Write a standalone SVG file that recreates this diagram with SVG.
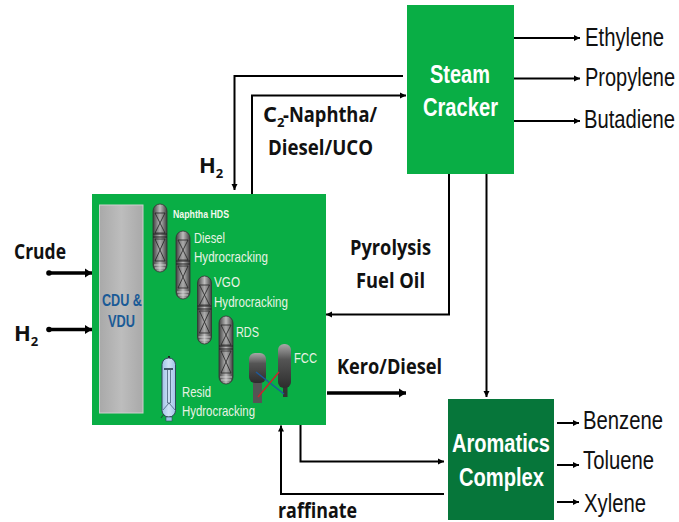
<svg xmlns="http://www.w3.org/2000/svg" width="679" height="522" viewBox="0 0 679 522">
<style>
text{font-family:"Liberation Sans",Arial,sans-serif}
.lbl{font-family:"Open Sans","Noto Sans",sans-serif;font-weight:700;fill:#111;font-size:22px}
.prod{font-size:26px;fill:#111}
.w{fill:#e8f2e4;font-size:15px}
.big{fill:#fff;font-weight:700;font-size:26px}
.c{fill:none;stroke:#000;stroke-width:2}
.t{fill:none;stroke:#000;stroke-width:3.500}
</style>
<defs>
<marker id="a" markerUnits="userSpaceOnUse" markerWidth="8" markerHeight="8" refX="6" refY="4" orient="auto"><path d="M0 1L6 4L0 7Z" fill="#000"/></marker>
<marker id="h" markerUnits="userSpaceOnUse" markerWidth="10" markerHeight="10" refX="7" refY="5" orient="auto"><path d="M0 0.500L7 5L0 9.500Z" fill="#000"/></marker>
<marker id="dot" markerUnits="userSpaceOnUse" markerWidth="7" markerHeight="7" refX="3.500" refY="3.500"><circle cx="3.500" cy="3.500" r="2.800" fill="#000"/></marker>
<linearGradient id="g" x1="0" x2="1" y1="0" y2="0"><stop offset="0" stop-color="#3f3f3f"/><stop offset=".5" stop-color="#bdbdbd"/><stop offset="1" stop-color="#3f3f3f"/></linearGradient>
<linearGradient id="d" x1="0" x2="0" y1="0" y2="1"><stop offset="0" stop-color="#a8a8a8"/><stop offset=".35" stop-color="#555"/><stop offset="1" stop-color="#2d2d2d"/></linearGradient>
<linearGradient id="b" x1="0" x2="1" y1="0" y2="0"><stop offset="0" stop-color="#9fc3e8"/><stop offset=".5" stop-color="#cfe2f6"/><stop offset="1" stop-color="#9fc3e8"/></linearGradient>
<linearGradient id="gr" x1="0" x2="1" y1="0" y2="0"><stop offset="0" stop-color="#a9a9a9"/><stop offset=".5" stop-color="#bdbdbd"/><stop offset="1" stop-color="#a9a9a9"/></linearGradient>
<g id="col">
<rect x="0" y="0" width="14" height="68" rx="7" fill="url(#g)" stroke="#333" stroke-width=".8"/>
<path d="M0 30H14M0 33H14" fill="none" stroke="#222" stroke-width="1"/>
<path d="M2 9H12L2 29H12ZM2 35H12L2 57H12Z" fill="#888" fill-opacity=".35" stroke="#222" stroke-width=".8"/>
<path d="M1 61H13M2 64H12" fill="none" stroke="#ddd" stroke-width=".8"/>
</g>
</defs>

<g id="connectors">
<path class="c" d="M403 76H234.500V190" marker-end="url(#a)"/>
<path class="c" d="M252 194V95.500H406" marker-end="url(#a)"/>
<path class="c" d="M514 38H580" marker-end="url(#a)"/>
<path class="c" d="M514 78.500H580" marker-end="url(#a)"/>
<path class="c" d="M514 121H580" marker-end="url(#a)"/>
<path class="c" d="M449 174V314.500H326" marker-end="url(#a)"/>
<path class="c" d="M486.500 174V397" marker-end="url(#a)"/>
<path class="t" d="M49 273H92" marker-start="url(#dot)" marker-end="url(#h)"/>
<path class="t" d="M49 329.500H92" marker-start="url(#dot)" marker-end="url(#h)"/>
<path class="t" d="M327 393H406" marker-end="url(#h)"/>
<path class="c" d="M300.500 425V461.500H444" marker-end="url(#a)"/>
<path class="c" d="M444 494H281V425.500" marker-end="url(#a)"/>
<path class="c" d="M557 423H579" marker-end="url(#a)"/>
<path class="c" d="M557 465H579" marker-end="url(#a)"/>
<path class="c" d="M557 502H579" marker-end="url(#a)"/>
</g>

<g id="steam-cracker">
<rect x="407" y="5" width="107" height="169" fill="#09ae45"/>
<text class="big" x="430" y="83" textLength="60" lengthAdjust="spacingAndGlyphs">Steam</text>
<text class="big" x="423" y="116" textLength="75" lengthAdjust="spacingAndGlyphs">Cracker</text>
</g>

<g id="aromatics-complex">
<rect x="448" y="399" width="106" height="121" fill="#06763a"/>
<text class="big" x="452" y="452" textLength="98" lengthAdjust="spacingAndGlyphs">Aromatics</text>
<text class="big" x="459" y="486" textLength="85" lengthAdjust="spacingAndGlyphs">Complex</text>
</g>

<g id="refinery">
<rect x="92" y="194" width="234" height="231" fill="#09ae45"/>
<rect x="99.500" y="205" width="43.500" height="208" fill="url(#gr)" stroke="#cfcfcf"/>
<text x="102" y="306" textLength="40" lengthAdjust="spacingAndGlyphs" font-size="17" font-weight="700" fill="#1a5a96">CDU &amp;</text>
<text x="108" y="327" textLength="27" lengthAdjust="spacingAndGlyphs" font-size="17" font-weight="700" fill="#1a5a96">VDU</text>
<use href="#col" x="153" y="204"/>
<use href="#col" x="176" y="231"/>
<use href="#col" x="197.500" y="276"/>
<use href="#col" x="219" y="316"/>
<text x="173" y="218" textLength="56" lengthAdjust="spacingAndGlyphs" font-size="11" font-weight="700" fill="#f2f8ee">Naphtha HDS</text>
<text class="w" x="194" y="243" textLength="31" lengthAdjust="spacingAndGlyphs">Diesel</text>
<text class="w" x="194" y="262" textLength="74" lengthAdjust="spacingAndGlyphs">Hydrocracking</text>
<text class="w" x="214" y="287" textLength="26" lengthAdjust="spacingAndGlyphs">VGO</text>
<text class="w" x="214" y="307" textLength="74" lengthAdjust="spacingAndGlyphs">Hydrocracking</text>
<text class="w" x="236" y="337" textLength="23" lengthAdjust="spacingAndGlyphs">RDS</text>
<text class="w" x="294" y="363" textLength="23" lengthAdjust="spacingAndGlyphs">FCC</text>
<text class="w" x="182" y="397" textLength="29" lengthAdjust="spacingAndGlyphs">Resid</text>
<text class="w" x="182" y="416" textLength="73" lengthAdjust="spacingAndGlyphs">Hydrocracking</text>
<path d="M169 356V359" stroke="#222" stroke-width="2"/>
<rect x="162" y="358" width="13.500" height="59" rx="6.500" fill="url(#b)" stroke="#33475a"/>
<rect x="166" y="417" width="6" height="4" fill="#9fc3e8" stroke="#33475a" stroke-width=".6"/>
<path d="M164 369H173" stroke="#33475a" stroke-width="1.800"/>
<path d="M167.500 370V403H170.500V370M163 410L169 403L175 410" fill="none" stroke="#46627c" stroke-width=".8"/>
<path d="M161 418L164 414" stroke="#1d5f3a" stroke-width="1.200"/>
<rect x="253" y="378" width="9" height="25" fill="#555"/>
<rect x="249" y="353" width="17" height="30" rx="6" fill="url(#d)"/>
<rect x="283" y="380" width="4.500" height="17" fill="#333"/>
<rect x="278" y="344" width="13" height="44" rx="6" fill="url(#d)"/>
<path d="M256 372L284 394" stroke="#1c5a9e" stroke-width="1.500"/>
<path d="M258 397L279 372" stroke="#c9252d" stroke-width="1.500"/>
</g>

<g id="labels">
<text class="lbl" x="14" y="259" textLength="52" lengthAdjust="spacingAndGlyphs">Crude</text>
<text class="lbl" x="14" y="341">H<tspan font-size="13" dy="5">2</tspan></text>
<text class="lbl" x="199" y="173">H<tspan font-size="13" dy="5">2</tspan></text>
<text class="lbl" x="263" y="122">C<tspan font-size="13" dy="5">2</tspan></text>
<text class="lbl" x="283" y="122" textLength="94" lengthAdjust="spacingAndGlyphs">-Naphtha/</text>
<text class="lbl" x="268" y="155" textLength="105" lengthAdjust="spacingAndGlyphs">Diesel/UCO</text>
<text class="lbl" x="350" y="255" textLength="81" lengthAdjust="spacingAndGlyphs">Pyrolysis</text>
<text class="lbl" x="356" y="288" textLength="69" lengthAdjust="spacingAndGlyphs">Fuel Oil</text>
<text class="lbl" x="337" y="374" textLength="105" lengthAdjust="spacingAndGlyphs">Kero/Diesel</text>
<text class="lbl" x="278" y="518" textLength="79" lengthAdjust="spacingAndGlyphs">raffinate</text>
<text class="prod" x="585" y="46" textLength="79" lengthAdjust="spacingAndGlyphs">Ethylene</text>
<text class="prod" x="585" y="86" textLength="90" lengthAdjust="spacingAndGlyphs">Propylene</text>
<text class="prod" x="584" y="128" textLength="91" lengthAdjust="spacingAndGlyphs">Butadiene</text>
<text class="prod" x="583" y="429" textLength="80" lengthAdjust="spacingAndGlyphs">Benzene</text>
<text class="prod" x="583" y="469" textLength="71" lengthAdjust="spacingAndGlyphs">Toluene</text>
<text class="prod" x="584" y="512" textLength="62" lengthAdjust="spacingAndGlyphs">Xylene</text>
</g>
</svg>
